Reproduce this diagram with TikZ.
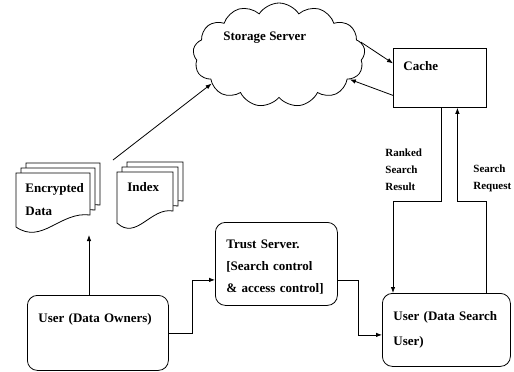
\documentclass[tikz,border=0pt]{standalone}
\usepackage{fontspec}
\setmainfont{Liberation Serif}
\usetikzlibrary{shapes.symbols,arrows.meta}

% one sheet of a paper stack: left, top, width, bottom of left edge
\newcommand{\docsheet}[4]{%
  \filldraw[fill=white] (#1,#2) -- (#1+#3,#2) -- (#1+#3,#4-12)
    .. controls (#1+0.6*#3,#4-16) and (#1+0.35*#3,#4+18) .. (#1,#4) -- cycle;}

\begin{document}
\begin{tikzpicture}[x=1pt,y=-1pt,>={Latex[length=6pt,width=4.5pt]},line width=0.8pt,
    font=\bfseries\fontsize{13}{22}\selectfont,
    box/.style={draw,rounded corners=10pt,anchor=north west,align=left,inner ysep=0pt,inner xsep=11pt},
    note/.style={anchor=base west,inner sep=0pt,align=left,font=\bfseries\fontsize{11}{17}\selectfont}]
  \useasboundingbox (0,0) rectangle (514,372);
  % storage cloud and cache
  \node[cloud,draw,cloud puffs=13,cloud puff arc=115,minimum width=172pt,minimum height=104pt] (storage) at (279,55) {};
  \node[anchor=base west,inner sep=0pt] (storagetxt) at (223,40) {Storage Server};
  \node[draw,anchor=north west,text width=73pt,text height=22pt,text depth=37pt,inner xsep=10pt,inner ysep=0pt] (cache) at (393,48) {Cache};
  % paper stacks
  \foreach \off in {10,5,0} \docsheet{16+\off}{173-\off}{74}{227-\off};
  \foreach \off in {10,5,0} \docsheet{117+\off}{172-\off}{56}{223-\off};
  \node[anchor=base west,inner sep=0pt,text width=70pt,align=left,font=\bfseries\fontsize{13}{23}\selectfont] (encdata) at (25,192) {Encrypted\\Data};
  \node[anchor=base west,inner sep=0pt] (index) at (127,191) {Index};
  \coordinate (encbot) at (89,235);
  \coordinate (idxtop) at (113,160);
  % users and trust server
  \node[box,text width=119pt,text height=27pt,text depth=48pt] (owner) at (27,295) {User (Data Owners)};
  \node[box,text width=100pt,text height=26pt,text depth=57pt] (trust) at (215,222) {Trust Server.\\{}[Search control\\\& access control]};
  \node[box,text width=106pt,text height=27pt,text depth=46pt,font=\bfseries\fontsize{13}{25}\selectfont] (searcher) at (382,293) {User (Data Search\\User)};
  \node[note,text width=50pt] (ranked) at (385,156) {Ranked\\Search\\Result};
  \node[note,text width=40pt] (request) at (473,172) {Search\\Request};
  % connectors
  \draw[->] (idxtop) -- (storage.203);
  \draw[->] (storage.9) -- ([yshift=14.5pt]cache.west);
  \draw[->] ([yshift=-17.5pt]cache.west) -- (storage.-19);
  \draw[->] (owner.north -| encbot) -- (encbot);
  \draw[->] (owner.east) -- ++(24,0) |- ([yshift=-16pt]trust.west);
  \draw[->] ([yshift=-16pt]trust.east) -- ++(21,0) |- ([yshift=-5pt]searcher.west);
  \draw[->] ([xshift=1.5pt]cache.south) -- ++(0,94) -| ([xshift=11pt]searcher.north west);
  \draw[->] ([xshift=-24pt]searcher.north east) -- ++(0,-92) -| ([xshift=17.5pt]cache.south);
\end{tikzpicture}
\end{document}
